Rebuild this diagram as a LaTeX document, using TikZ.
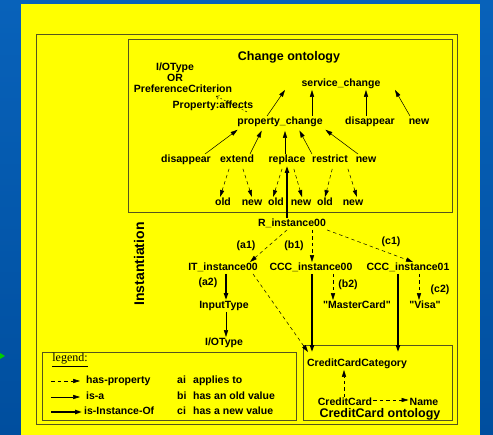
\documentclass[tikz,border=0pt]{standalone}
\usepackage{fontspec}
\setmainfont{Liberation Sans}
\newfontfamily\lserif{Liberation Serif}
\newfontfamily\qfont{Liberation Sans}[Ligatures=TeXOff]
\usetikzlibrary{arrows.meta}
\definecolor{bgtop}{RGB}{8,98,186}
\definecolor{bgbot}{RGB}{0,78,158}
\definecolor{framecol}{RGB}{85,85,30}
\definecolor{slideyellow}{RGB}{255,255,0}
\begin{document}
\begin{tikzpicture}[x=1pt,y=-1pt,
  lbl/.style={font=\fontsize{10.5}{12}\selectfont\bfseries, inner sep=1pt, text height=7.5pt, text depth=2pt},
  ttl/.style={font=\fontsize{12.5}{14}\selectfont\bfseries, inner sep=1pt},
  tipa/.style={-{Triangle[length=7pt,width=4.2pt]}},
  isa/.style={tipa, line width=0.5pt},
  hasprop/.style={tipa, line width=0.5pt, dash pattern=on 3.5pt off 3pt},
  inst/.style={tipa, line width=1.6pt},
  frame/.style={draw=framecol, line width=0.7pt},
]
\useasboundingbox (0,0) rectangle (493,435);
\shade[top color=bgtop, bottom color=bgbot] (0,0) rectangle (493,435);
\fill[green!80!black] (0,353) -- (5,356) -- (0,359) -- cycle;
\fill[slideyellow] (21,4) rectangle (480,435);

% frames
\draw[frame] (36,34) rectangle (457,424);
\draw[frame] (128,39) rectangle (452,212);
\draw[frame] (303,345) rectangle (452,420);
\draw[frame] (42,352) rectangle (296,420);

% change ontology
\node[ttl] (cot) at (289,57) {Change ontology};
\node[lbl] (iot) at (175,68) {I/OType};
\node[lbl] (or) at (175,79) {OR};
\node[lbl] (pf) at (183,90) {PreferenceCriterion};
\node[lbl] (pa) at (213,106) {Property:affects};
\node[lbl] (sc) at (341,84) {service\_change};
\node[lbl] (pc) at (280,122) {property\_change};
\node[lbl] (d1) at (370,122) {disappear};
\node[lbl] (n1) at (419,122) {new};

\node[lbl] (d2) at (186,160) {disappear};
\node[lbl] (ex) at (237,160) {extend};
\node[lbl] (rp) at (287,160) {replace};
\node[lbl] (rs) at (330,160) {restrict};
\node[lbl] (n2) at (366,160) {new};

\node[lbl] (o1) at (223,203) {old};
\node[lbl] (w1) at (252,203) {new};
\node[lbl] (o2) at (276,203) {old};
\node[lbl] (w2) at (301,203) {new};
\node[lbl] (o3) at (325,203) {old};
\node[lbl] (w3) at (353,203) {new};

\draw[isa] ([xshift=-13pt]pc.north) -- ([xshift=-56pt]sc.south);
\draw[isa] ([xshift=32pt]pc.north) -- ([xshift=-29pt]sc.south);
\draw[isa] ([xshift=-4pt]d1.north) -- ([xshift=25pt]sc.south);
\draw[isa] ([xshift=-9pt]n1.north) -- ([xshift=54pt]sc.south);

\draw[isa, shorten >=3pt] ([xshift=19pt]d2.north) -- ([xshift=-40pt]pc.south);
\draw[isa, shorten >=3pt] ([xshift=13pt]ex.north) -- ([xshift=-17pt]pc.south);
\draw[isa, shorten >=3pt] ([xshift=-2pt]rp.north) -- ([xshift=5pt]pc.south);
\draw[isa, shorten >=3pt] ([xshift=-18pt]rs.north) -- ([xshift=18pt]pc.south);
\draw[isa, shorten >=3pt] ([xshift=-8pt]n2.north) -- ([xshift=43pt]pc.south);

\draw[hasprop, shorten <=3pt] ([xshift=-7pt]ex.south) -- ([xshift=-3pt]o1.north);
\draw[hasprop, shorten <=3pt] ([xshift=5pt]ex.south) -- (w1.north);
\draw[hasprop, shorten <=3pt] ([xshift=-4pt]rp.south) -- ([xshift=-3pt]o2.north);
\draw[hasprop, shorten <=3pt] ([xshift=6pt]rp.south) -- ([xshift=1pt]w2.north);
\draw[hasprop, shorten <=3pt] ([xshift=3pt]rs.south) -- (o3.north);
\draw[hasprop, shorten <=3pt] ([xshift=17pt]rs.south) -- ([xshift=4pt]w3.north);

\draw[line width=0.4pt, dash pattern=on 2pt off 2pt, -{Straight Barb[length=3pt,width=4pt]}]
  ([xshift=34pt]pa.south) -- ([xshift=33pt]pf.south);

% instantiation
\node[font=\fontsize{14}{16}\selectfont\bfseries, rotate=90, inner sep=1pt] (inst) at (139,264) {Instantiation};
\node[lbl] (ri) at (292,224) {R\_instance00};
\node[lbl] (la1) at (246,246) {(a1)};
\node[lbl] (lb1) at (294,246) {(b1)};
\node[lbl] (lc1) at (391,242) {(c1)};
\node[lbl] (it) at (223,268) {IT\_instance00};
\node[lbl] (c0) at (311,268) {CCC\_instance00};
\node[lbl] (c1) at (408,268) {CCC\_instance01};
\node[lbl] (la2) at (208,283) {(a2)};
\node[lbl] (lb2) at (348,285) {(b2)};
\node[lbl] (lc2) at (440,290) {(c2)};
\node[lbl] (ip) at (224,306) {InputType};
\node[lbl, font=\qfont\fontsize{10.5}{12}\selectfont\bfseries] (mc) at (357,306) {"MasterCard"};
\node[lbl, font=\qfont\fontsize{10.5}{12}\selectfont\bfseries] (vi) at (425,306) {"Visa"};
\node[lbl] (io) at (224,343) {I/OType};

% creditcard ontology
\node[lbl] (cat) at (357,364) {CreditCardCategory};
\node[lbl] (cc) at (345,403) {CreditCard};
\node[lbl] (nm) at (424,403) {Name};
\node[ttl] (cco) at (380,414) {CreditCard ontology};

\draw[inst] ([xshift=-5pt]ri.north) -- (rp.south);
\draw[hasprop] ([xshift=-5pt]ri.south) -- ([xshift=27pt]it.north);
\draw[hasprop] ([xshift=20pt]ri.south) -- ([xshift=1pt]c0.north);
\draw[hasprop] ([xshift=35pt]ri.south) -- ([xshift=5pt]c1.north);
\draw[inst] ([xshift=3pt]it.south) -- ([xshift=2pt]ip.north);
\draw[isa] ([xshift=2pt]ip.south) -- ([xshift=2pt]io.north);
\draw[hasprop] ([xshift=30pt]it.south) -- ([xshift=-49pt,yshift=6pt]cat.north);
\draw[inst] ([xshift=1pt]c0.south) -- ([xshift=-45pt,yshift=6pt]cat.north);
\draw[hasprop] ([xshift=22pt]c0.south) -- ([xshift=-24pt]mc.north);
\draw[inst] ([xshift=-10pt]c1.south) -- ([xshift=41pt,yshift=6pt]cat.north);
\draw[hasprop] ([xshift=11pt]c1.south) -- ([xshift=-6pt]vi.north);
\draw[hasprop] ([xshift=-1pt]cc.north) -- ([xshift=-13pt]cat.south);
\draw[hasprop] ([yshift=3pt]cc.east) -- ([yshift=3pt]nm.west);

% legend
\node[font=\lserif\fontsize{12}{14}\selectfont, inner sep=1pt] (lg) at (70,360) {\underline{legend:}};
\node[lbl, anchor=west] (l1) at (85,381) {has-property};
\node[lbl, anchor=west] (l2) at (85,397) {is-a};
\node[lbl, anchor=west] (l3) at (83,412) {is-Instance-Of};
\draw[hasprop] ([xshift=-34pt]l1.west) -- ([xshift=-5pt]l1.west);
\draw[isa] ([xshift=-34pt]l2.west) -- ([xshift=-5pt]l2.west);
\draw[inst] ([xshift=-32pt]l3.west) -- ([xshift=-1pt]l3.west);
\node[lbl, anchor=west] (ka) at (176,381) {ai};
\node[lbl, anchor=west] (kb) at (176,397) {bi};
\node[lbl, anchor=west] (kc) at (176,412) {ci};
\node[lbl, anchor=west] (ta) at (192,381) {applies to};
\node[lbl, anchor=west] (tb) at (192,397) {has an old value};
\node[lbl, anchor=west] (tc) at (192,412) {has a new value};
\end{tikzpicture}
\end{document}
